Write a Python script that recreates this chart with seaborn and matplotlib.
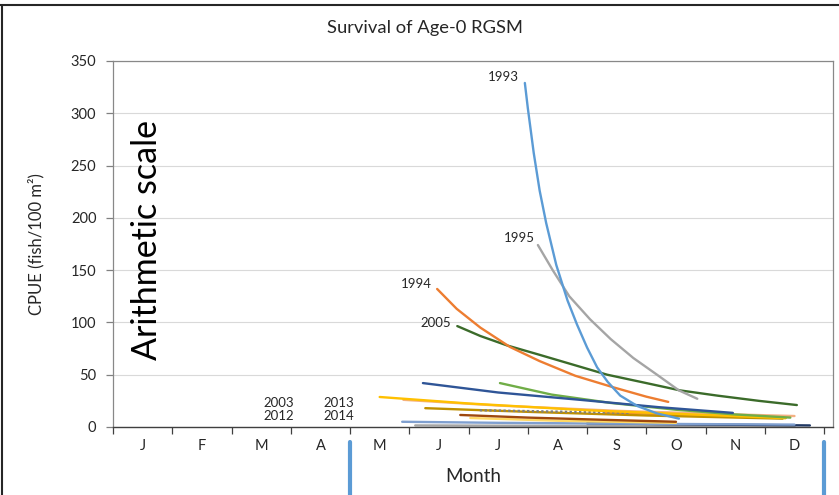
import matplotlib
matplotlib.use("Agg")
import matplotlib.pyplot as plt
import pandas as pd
import seaborn as sns
from matplotlib.lines import Line2D
from matplotlib.transforms import blended_transform_factory

# ---- data -------------------------------------------------------------
month_labels = ["J", "F", "M", "A", "M", "J", "J", "A", "S", "O", "N", "D"]

# month position (0 = start of January) and CPUE for each fitted cohort curve
m_1993 = [6.95, 7.00, 7.10, 7.20, 7.31, 7.48, 7.67, 7.83, 8.00, 8.17, 8.35, 8.56, 8.85, 9.18, 9.55]
c_1993 = [329, 305, 262, 226, 195, 155, 121, 98, 76, 57, 43, 30, 20, 13, 8]

m_1994 = [5.47, 5.80, 6.20, 6.70, 7.20, 7.80, 8.44, 9.00, 9.37]
c_1994 = [132, 113, 95, 76.5, 63, 49, 38, 29, 24]

m_1995 = [7.17, 7.42, 7.70, 8.05, 8.40, 8.78, 9.18, 9.55, 9.86]
c_1995 = [174, 150, 125, 103, 84, 66, 50, 35, 27]

m_2005 = [5.81, 6.20, 6.65, 7.20, 7.80, 8.34, 9.00, 9.57, 10.20, 10.90, 11.54]
c_2005 = [96.5, 87, 78, 69, 59, 50, 42, 35, 30, 25, 21]

# unlabelled cohorts (low catch years)
m_blue = [5.23, 6.50, 7.88, 9.20, 10.46]
c_blue = [42, 33, 26, 19, 13.5]

m_green = [6.53, 7.40, 8.40, 9.50, 10.50, 11.43]
c_green = [42, 31, 23, 16.5, 12, 9]

m_gold = [4.50, 6.00, 8.00, 10.00, 11.35]
c_gold = [28.7, 22.5, 16, 11.5, 8.5]

m_salmon = [4.90, 6.50, 8.50, 10.50, 11.50]
c_salmon = [26, 20.5, 15.5, 12, 10.5]

m_darkgold = [5.27, 7.00, 9.00, 11.30]
c_darkgold = [18, 14.5, 11, 8]

m_dotted = [6.19, 7.40, 8.70]
c_dotted = [16, 14.8, 13.5]

m_orange2 = [8.30, 10.00, 11.35]
c_orange2 = [14, 11, 8.6]

m_brown = [5.86, 7.00, 8.20, 9.50]
c_brown = [11.5, 9, 7, 5]

m_lightgold = [6.03, 7.50, 9.50]
c_lightgold = [8.6, 6, 4]

m_bluegray = [4.88, 6.50, 8.50, 10.50, 11.50]
c_bluegray = [5, 4, 3.2, 2.6, 2.3]

m_navy = [8.00, 10.00, 11.76]
c_navy = [3.5, 2.4, 1.5]

m_gray = [5.10, 8.00, 11.50]
c_gray = [1.5, 1.0, 0.6]

# years with no surviving age-0 fish
zero_years = [("2003\n2012", 2.80), ("2013\n2014", 3.81)]

# ---- series table -----------------------------------------------------
series = [
    ("gray", m_gray, c_gray, "#A5A5A5", ""),
    ("navy", m_navy, c_navy, "#203864", ""),
    ("bluegray", m_bluegray, c_bluegray, "#7F9FCF", ""),
    ("lightgold", m_lightgold, c_lightgold, "#FFD966", ""),
    ("brown", m_brown, c_brown, "#9E480E", ""),
    ("orange2", m_orange2, c_orange2, "#F08A3A", ""),
    ("darkgold", m_darkgold, c_darkgold, "#BF9000", ""),
    ("salmon", m_salmon, c_salmon, "#F4B183", ""),
    ("dotted", m_dotted, c_dotted, "#7F7F7F", (1, 1)),
    ("gold", m_gold, c_gold, "#FFC000", ""),
    ("green", m_green, c_green, "#70AD47", ""),
    ("blue", m_blue, c_blue, "#2F5597", ""),
    ("2005", m_2005, c_2005, "#3B6B2A", ""),
    ("1994", m_1994, c_1994, "#ED7D31", ""),
    ("1995", m_1995, c_1995, "#A5A5A5", ""),
    ("1993", m_1993, c_1993, "#5B9BD5", ""),
]

rows = []
for name, ms, cs, _, _ in series:
    for m, c in zip(ms, cs):
        rows.append({"series": name, "month": m, "cpue": c})
df = pd.DataFrame(rows)
palette = {name: col for name, _, _, col, _ in series}
dashes = {name: d for name, _, _, _, d in series}
order = [s[0] for s in series]

# ---- figure -----------------------------------------------------------
sns.set_theme(style="white")
plt.rcParams["font.family"] = ["Lato", "DejaVu Sans"]

fig = plt.figure(figsize=(8.39, 4.95), dpi=100)
ax = fig.add_axes([113 / 839, 1 - 427 / 495, 720 / 839, 366 / 495])

ax.yaxis.grid(True, color="#D9D9D9", linewidth=0.8)
ax.set_axisbelow(True)

sns.lineplot(data=df, x="month", y="cpue", hue="series", hue_order=order,
             palette=palette, style="series", style_order=order, dashes=dashes,
             estimator=None, sort=False, legend=False, linewidth=1.7, ax=ax)
for line in ax.get_lines():
    line.set_solid_joinstyle("round")
    line.set_solid_capstyle("round")

ax.set_xlim(0, 12.15)
ax.set_ylim(0, 350)
ax.set_yticks(range(0, 351, 50))
ax.set_xticks(range(13))
ax.set_xticklabels([])
ax.set_xticks([i + 0.5 for i in range(12)], minor=True)
ax.set_xticklabels(month_labels, minor=True)
ax.tick_params(axis="x", which="major", direction="out", length=5, width=0.9,
               color="#404040", bottom=True)
ax.tick_params(axis="x", which="minor", length=0, pad=9, labelsize=10.5,
               labelcolor="#262626")
ax.tick_params(axis="y", direction="out", length=5, width=0.9, color="#808080",
               left=True, pad=7, labelsize=10.5, labelcolor="#262626")

for side in ["left", "top", "right"]:
    ax.spines[side].set_color("#888888")
    ax.spines[side].set_linewidth(0.9)
ax.spines["bottom"].set_color("#404040")
ax.spines["bottom"].set_linewidth(1.0)

ax.set_xlabel("Month", fontsize=13.5, color="#262626")
ax.xaxis.set_label_coords(0.5, -0.112)
ax.set_ylabel("CPUE (fish/100 m²)", fontsize=12, color="#262626")
ax.yaxis.set_label_coords(-0.095, 0.5)

# cohort year labels at the start of each curve
label_offsets = {"1993": (-6, 6), "1995": (-3, 7), "1994": (-5, 5), "2005": (-6, 3)}
curves = {name: (ms, cs) for name, ms, cs, _, _ in series}
for name, (dx, dy) in label_offsets.items():
    ms, cs = curves[name]
    ax.annotate(name, xy=(ms[0], cs[0]), xytext=(dx, dy), textcoords="offset pixels",
                ha="right", va="center", fontsize=9.5, color="#262626")

for text, xm in zero_years:
    ax.text(xm, 16.5, text, ha="center", va="center", fontsize=9.5,
            color="#262626", linespacing=1.15)

ax.text(0.047, 0.511, "Arithmetic scale", transform=ax.transAxes, rotation=90,
        ha="center", va="center", fontsize=24.5, color="black")

fig.text(425 / 839, 1 - 28 / 495, "Survival of Age-0 RGSM", ha="center",
         va="center", fontsize=13.2, color="#262626")

# bracket marks spanning May to December below the axis
bt = blended_transform_factory(ax.transData, fig.transFigure)
for xm in (4, 12):
    ax.add_line(Line2D([xm, xm], [0, 1 - 442 / 495], transform=bt,
                       color="#5B9BD5", linewidth=3, clip_on=False))

# outer chart border (top and left edges)
fig.add_artist(Line2D([0, 1], [1 - 5 / 495, 1 - 5 / 495], transform=fig.transFigure,
                      color="#262626", linewidth=1.5))
fig.add_artist(Line2D([1.5 / 839, 1.5 / 839], [0, 1 - 5 / 495], transform=fig.transFigure,
                      color="#262626", linewidth=1.5))

fig.savefig("out.png", dpi=100)
